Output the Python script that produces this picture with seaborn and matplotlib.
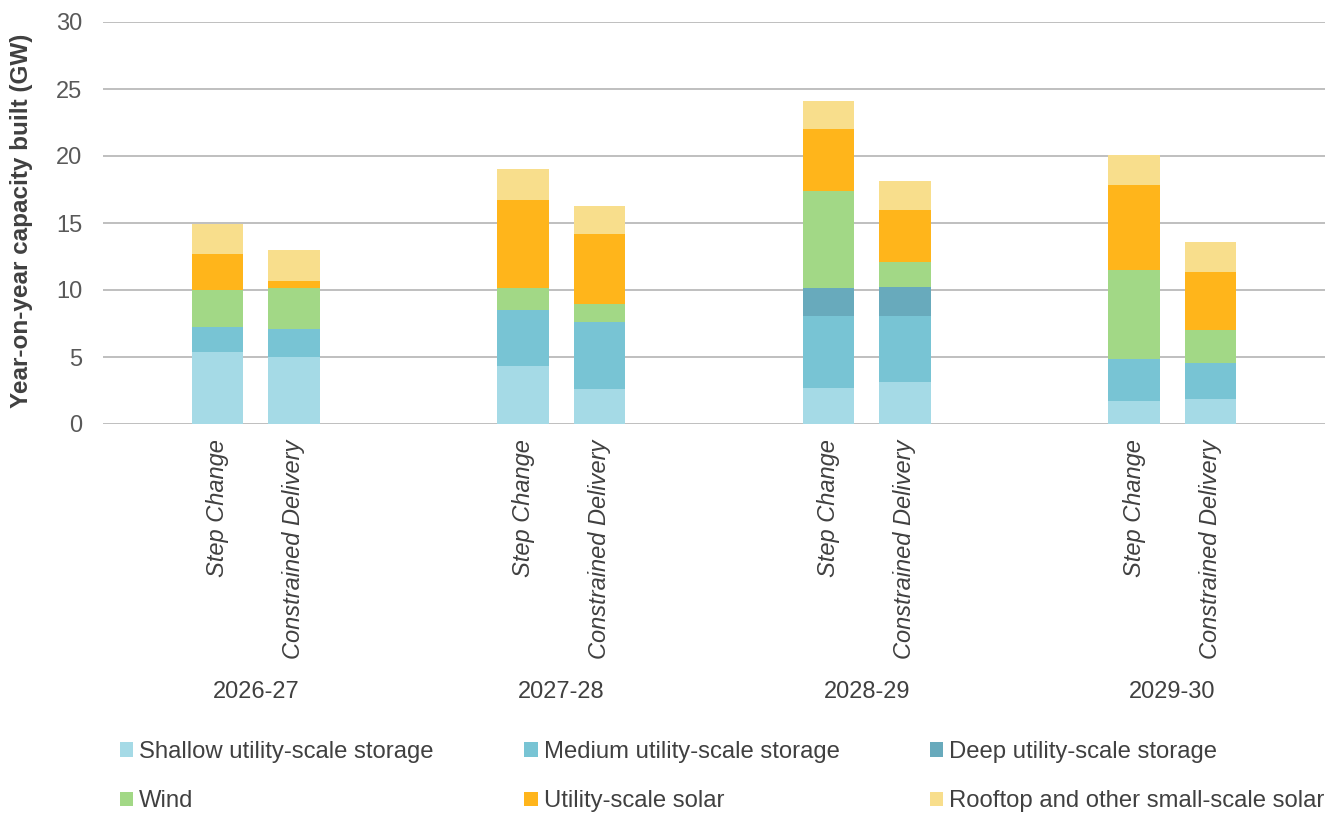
import matplotlib
matplotlib.use("Agg")
import matplotlib.pyplot as plt
import matplotlib.transforms as mtransforms
from matplotlib.patches import Patch
import numpy as np
import pandas as pd
import seaborn as sns

# Financial years and scenarios (one bar per scenario per year)
years = ["2026-27", "2027-28", "2028-29", "2029-30"]
scenarios = ["Step Change", "Constrained Delivery"]

# Capacity built per year (GW), ordered: year x scenario
shallow_storage = [5.36, 5.03, 4.30, 2.63, 2.65, 3.10, 1.73, 1.88]
medium_storage = [1.90, 2.08, 4.19, 4.96, 5.41, 4.96, 3.12, 2.70]
deep_storage = [0.00, 0.00, 0.00, 0.00, 2.08, 2.20, 0.00, 0.00]
wind = [2.73, 3.03, 1.65, 1.35, 7.22, 1.84, 6.64, 2.41]
utility_solar = [2.68, 0.55, 6.61, 5.26, 4.65, 3.90, 6.32, 4.32]
rooftop_solar = [2.28, 2.31, 2.25, 2.10, 2.13, 2.13, 2.25, 2.29]

series_names = [
    "Shallow utility-scale storage",
    "Medium utility-scale storage",
    "Deep utility-scale storage",
    "Wind",
    "Utility-scale solar",
    "Rooftop and other small-scale solar",
]
series_values = [shallow_storage, medium_storage, deep_storage,
                 wind, utility_solar, rooftop_solar]
series_colors = ["#A5DAE6", "#78C4D4", "#68AABC",
                 "#A2D886", "#FFB51B", "#F8DE8C"]

# Category slots: a spacer either side of each year's pair of bars
slots, slot_labels, bar_slots = [], [], []
for y in years:
    slots.append(f"{y}|pre")
    slot_labels.append("")
    for s in scenarios:
        slots.append(f"{y}|{s}")
        slot_labels.append(s)
        bar_slots.append(f"{y}|{s}")
    slots.append(f"{y}|post")
    slot_labels.append("")

sns.set_theme(style="white")
plt.rcParams["font.family"] = ["Liberation Sans", "DejaVu Sans"]

fig = plt.figure(figsize=(13.43, 8.14), dpi=100)
ax = fig.add_axes([103 / 1343, 1 - 424 / 814, (1325 - 103) / 1343, (424 - 22) / 814])

# Stack by drawing cumulative totals from the top layer down
cum = np.cumsum(np.array(series_values), axis=0)
for i in range(len(series_names) - 1, -1, -1):
    df = pd.DataFrame({"slot": bar_slots, "value": cum[i]})
    sns.barplot(data=df, x="slot", y="value", order=slots,
                color=series_colors[i], saturation=1, width=0.67,
                errorbar=None, linewidth=0, ax=ax, zorder=2)

ax.set_ylim(0, 30)
ax.set_yticks(range(0, 31, 5))
ax.set_xlim(-0.5, len(slots) - 0.5)
ax.grid(axis="y", color="#BFBFBF", linewidth=1.4, zorder=0)
ax.grid(axis="x", visible=False)
ax.set_axisbelow(True)
for sp in ax.spines.values():
    sp.set_visible(False)

ax.tick_params(axis="y", length=0, pad=15, labelsize=17, labelcolor="#595959")
ax.tick_params(axis="x", length=0, pad=11)
ax.set_xticks(range(len(slots)))
ax.set_xticklabels(slot_labels, rotation=90, fontsize=17, fontstyle="italic",
                   color="#404040", va="top", ha="center")
ax.set_xlabel("")
ax.set_ylabel("")

fig.text(22 / 1343, 1 - 221 / 814, "Year-on-year capacity built (GW)",
         rotation=90, ha="center", va="center", fontsize=17.5,
         fontweight="bold", color="#404040")

# Year labels centred under each pair of bars
trans = mtransforms.blended_transform_factory(ax.transData, fig.transFigure)
for k, y in enumerate(years):
    xc = 4 * k + 1.5
    ax.text(xc, 1 - 692 / 814, y, transform=trans, ha="center", va="center",
            fontsize=17, color="#404040")

# Legend laid out row by row (3 columns)
order = [0, 3, 1, 4, 2, 5]
handles = [Patch(facecolor=series_colors[i], edgecolor="none") for i in order]
labels = [series_names[i] for i in order]
fig.legend(handles, labels, ncol=3, loc="upper left",
           bbox_to_anchor=(120 / 1343, 1 - 741 / 814), frameon=False,
           fontsize=17.2, labelcolor="#404040", handlelength=0.55,
           handleheight=0.55, handletextpad=0.25, columnspacing=3.8,
           labelspacing=1.14, borderpad=0, borderaxespad=0)

fig.savefig("out.png", dpi=100)
